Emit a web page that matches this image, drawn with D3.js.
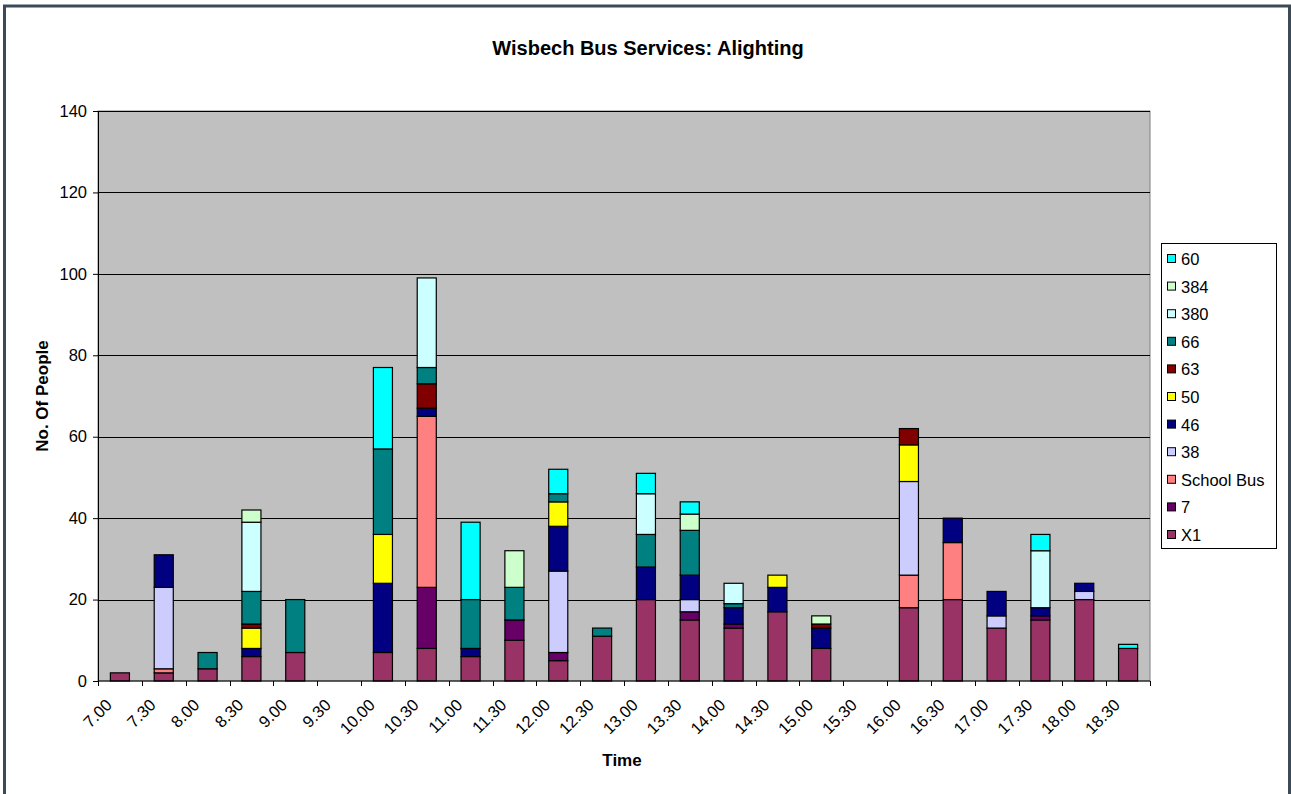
<!DOCTYPE html>
<html>
<head>
<meta charset="utf-8">
<script src="https://cdn.jsdelivr.net/npm/d3@7"></script>
<style>
  body { margin: 0; background: white; }
  text { font-family: Arial, "Liberation Sans", sans-serif; }
</style>
</head>
<body>
<div id="chart"></div>
<script>
const times = ["7.00", "7.30", "8.00", "8.30", "9.00", "9.30", "10.00", "10.30", "11.00", "11.30",
  "12.00", "12.30", "13.00", "13.30", "14.00", "14.30", "15.00", "15.30", "16.00", "16.30",
  "17.00", "17.30", "18.00", "18.30"];

// one array per service, bottom of the stack first
const x1 =        [2, 2, 3, 6, 7, 0, 7, 8, 6, 10, 5, 11, 20, 15, 13, 17, 8, 0, 18, 20, 13, 15, 20, 8];
const s7 =        [0, 0, 0, 0, 0, 0, 0, 15, 0, 5, 2, 0, 0, 2, 1, 0, 0, 0, 0, 0, 0, 1, 0, 0];
const schoolBus = [0, 1, 0, 0, 0, 0, 0, 42, 0, 0, 0, 0, 0, 0, 0, 0, 0, 0, 8, 14, 0, 0, 0, 0];
const s38 =       [0, 20, 0, 0, 0, 0, 0, 0, 0, 0, 20, 0, 0, 3, 0, 0, 0, 0, 23, 0, 3, 0, 2, 0];
const s46 =       [0, 8, 0, 2, 0, 0, 17, 2, 2, 0, 11, 0, 8, 6, 4, 6, 5, 0, 0, 6, 6, 2, 2, 0];
const s50 =       [0, 0, 0, 5, 0, 0, 12, 0, 0, 0, 6, 0, 0, 0, 0, 3, 0, 0, 9, 0, 0, 0, 0, 0];
const s63 =       [0, 0, 0, 1, 0, 0, 0, 6, 0, 0, 0, 0, 0, 0, 0, 0, 1, 0, 4, 0, 0, 0, 0, 0];
const s66 =       [0, 0, 4, 8, 13, 0, 21, 4, 12, 8, 2, 2, 8, 11, 1, 0, 0, 0, 0, 0, 0, 0, 0, 0];
const s380 =      [0, 0, 0, 17, 0, 0, 0, 22, 0, 0, 0, 0, 10, 0, 5, 0, 0, 0, 0, 0, 0, 14, 0, 0];
const s384 =      [0, 0, 0, 3, 0, 0, 0, 0, 0, 9, 0, 0, 0, 4, 0, 0, 2, 0, 0, 0, 0, 0, 0, 0];
const s60 =       [0, 0, 0, 0, 0, 0, 20, 0, 19, 0, 6, 0, 5, 3, 0, 0, 0, 0, 0, 0, 0, 4, 0, 1];

const seriesNames = ["X1", "7", "School Bus", "38", "46", "50", "63", "66", "380", "384", "60"];
const seriesValues = [x1, s7, schoolBus, s38, s46, s50, s63, s66, s380, s384, s60];
const seriesColors = ["#993366", "#660066", "#FF8080", "#CCCCFF", "#000080", "#FFFF00",
  "#800000", "#008080", "#CCFFFF", "#CCFFCC", "#00FFFF"];

const yTicks = [0, 20, 40, 60, 80, 100, 120, 140];

const width = 1291, height = 794;
const plot = { left: 98, right: 1150, top: 111, bottom: 681 };

const svg = d3.select("#chart").append("svg")
  .attr("width", width)
  .attr("height", height);

// outer frame
svg.append("rect")
  .attr("x", 4.5).attr("y", 6)
  .attr("width", 1285).attr("height", 800)
  .attr("fill", "white")
  .attr("stroke", "#3c4a57")
  .attr("stroke-width", 3);

// rows for d3.stack
const table = times.map((t, i) => {
  const row = { time: t };
  seriesNames.forEach((s, j) => { row[s] = seriesValues[j][i]; });
  return row;
});

const stacked = d3.stack().keys(seriesNames)(table);

const x = d3.scaleBand()
  .domain(times)
  .range([plot.left, plot.right])
  .paddingInner(0.565)
  .paddingOuter(0.2825);

const y = d3.scaleLinear()
  .domain([0, 140])
  .range([plot.bottom, plot.top]);

const color = d3.scaleOrdinal().domain(seriesNames).range(seriesColors);

// plot background
svg.append("rect")
  .attr("x", plot.left).attr("y", plot.top)
  .attr("width", plot.right - plot.left)
  .attr("height", plot.bottom - plot.top)
  .attr("fill", "#C0C0C0")
  .attr("stroke", "#808080");

// gridlines
svg.append("g")
  .selectAll("line")
  .data(yTicks.filter(d => d > 0))
  .join("line")
  .attr("x1", plot.left).attr("x2", plot.right)
  .attr("y1", d => Math.round(y(d)) + 0.5)
  .attr("y2", d => Math.round(y(d)) + 0.5)
  .attr("stroke", "black");

// bars
svg.append("g")
  .selectAll("g")
  .data(stacked)
  .join("g")
  .attr("fill", d => color(d.key))
  .selectAll("rect")
  .data(d => d.filter(p => p[1] - p[0] > 0))
  .join("rect")
  .attr("x", d => x(d.data.time))
  .attr("width", x.bandwidth())
  .attr("y", d => y(d[1]))
  .attr("height", d => y(d[0]) - y(d[1]))
  .attr("stroke", "black")
  .attr("stroke-width", 1.2);

// Y axis
svg.append("g")
  .attr("transform", `translate(${plot.left}, 0)`)
  .call(d3.axisLeft(y).tickValues(yTicks).tickSize(5).tickPadding(6).tickSizeOuter(0))
  .call(g => g.select(".domain").attr("stroke", "black"))
  .selectAll("text")
  .style("font-size", "16.5px")
  .attr("fill", "black");

// X axis, ticks sit between categories
const xAxis = svg.append("g")
  .attr("transform", `translate(0, ${plot.bottom})`);

xAxis.append("line")
  .attr("x1", plot.left).attr("x2", plot.right)
  .attr("stroke", "black");

const step = x.step();
xAxis.selectAll(".tick")
  .data(d3.range(times.length + 1))
  .join("line")
  .attr("class", "tick")
  .attr("x1", i => Math.round(plot.left + i * step) + 0.5)
  .attr("x2", i => Math.round(plot.left + i * step) + 0.5)
  .attr("y1", 0).attr("y2", 5)
  .attr("stroke", "black");

xAxis.selectAll("text")
  .data(times)
  .join("text")
  .attr("transform", d => `translate(${x(d) + x.bandwidth() / 2 - 7}, 25) rotate(-45)`)
  .attr("text-anchor", "end")
  .style("font-size", "16.5px")
  .text(d => d);

// titles
svg.append("text")
  .attr("x", 648).attr("y", 55)
  .attr("text-anchor", "middle")
  .style("font-size", "20px")
  .style("font-weight", "bold")
  .text("Wisbech Bus Services: Alighting");

svg.append("text")
  .attr("x", 622).attr("y", 766)
  .attr("text-anchor", "middle")
  .style("font-size", "17px")
  .style("font-weight", "bold")
  .text("Time");

svg.append("text")
  .attr("transform", "translate(48, 396) rotate(-90)")
  .attr("text-anchor", "middle")
  .style("font-size", "17px")
  .style("font-weight", "bold")
  .text("No. Of People");

// legend, top entry is the top of the stack
const legend = svg.append("g")
  .attr("transform", "translate(1161, 243)");

legend.append("rect")
  .attr("x", 0.5).attr("y", 0.5)
  .attr("width", 115).attr("height", 305)
  .attr("fill", "white")
  .attr("stroke", "black");

const items = legend.selectAll(".item")
  .data(seriesNames.slice().reverse())
  .join("g")
  .attr("class", "item")
  .attr("transform", (d, i) => `translate(0, ${16 + i * 27.6})`);

items.append("rect")
  .attr("x", 6.5).attr("y", -4.5)
  .attr("width", 8).attr("height", 8)
  .attr("fill", d => color(d))
  .attr("stroke", "black");

items.append("text")
  .attr("x", 20).attr("y", 6)
  .style("font-size", "16.5px")
  .text(d => d);
</script>
</body>
</html>
